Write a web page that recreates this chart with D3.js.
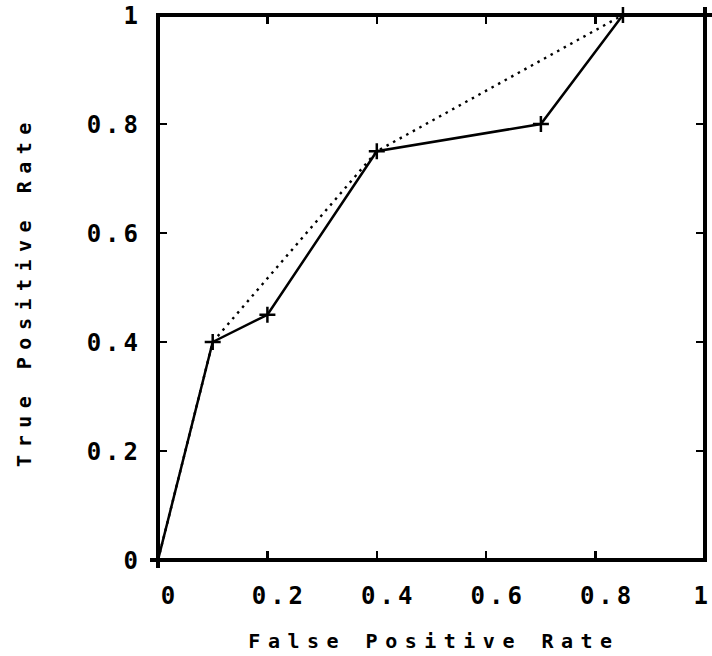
<!DOCTYPE html>
<html>
<head>
<meta charset="utf-8">
<script src="https://cdn.jsdelivr.net/npm/d3@7"></script>
<style>
  html, body { margin: 0; padding: 0; background: #fff; }
  svg { display: block; }
  text { font-family: "DejaVu Sans Mono", "Liberation Mono", monospace; font-weight: bold; fill: #000; }
</style>
</head>
<body>
<svg id="chart" width="712" height="656"></svg>
<script>
// ---- data ----
const rocFpr = [0, 0.1, 0.2, 0.4, 0.7, 0.85];
const rocTpr = [0, 0.4, 0.45, 0.75, 0.8, 1.0];
const markerFpr = [0.1, 0.2, 0.4, 0.7, 0.85];
const markerTpr = [0.4, 0.45, 0.75, 0.8, 1.0];
const hullFpr = [0, 0.1, 0.4, 0.85];
const hullTpr = [0, 0.4, 0.75, 1.0];
const tickValues = [0, 0.2, 0.4, 0.6, 0.8, 1];
const tickLabels = ["0", "0.2", "0.4", "0.6", "0.8", "1"];
const xTitle = "False Positive Rate";
const yTitle = "True Positive Rate";

// ---- layout ----
const svg = d3.select("#chart");
const x = d3.scaleLinear().domain([0, 1]).range([158, 705]);
const y = d3.scaleLinear().domain([0, 1]).range([560, 15]);
const ext = 8, tickLen = 9;

const g = svg.append("g").attr("shape-rendering", "crispEdges");

// frame lines (with small overhangs like the original)
const frame = [
  [x(0) - ext, y(0), x(1) + 2, y(0)],     // bottom
  [x(0), y(0) + ext, x(0), y(1) - 1],     // left
  [x(0) - 2, y(1), x(1) + ext, y(1)],     // top
  [x(1), y(1) - ext, x(1), y(0) + 2]      // right
];
g.selectAll("line.frame").data(frame).join("line")
  .attr("class", "frame")
  .attr("x1", d => d[0]).attr("y1", d => d[1])
  .attr("x2", d => d[2]).attr("y2", d => d[3])
  .attr("stroke", "#000").attr("stroke-width", 3.5);

// inward ticks on all four sides
const inner = tickValues.slice(1, -1);
g.selectAll("line.xb").data(inner).join("line")
  .attr("x1", d => x(d)).attr("x2", d => x(d))
  .attr("y1", y(0)).attr("y2", y(0) - tickLen)
  .attr("stroke", "#000").attr("stroke-width", 2.5);
g.selectAll("line.xt").data(inner).join("line")
  .attr("x1", d => x(d)).attr("x2", d => x(d))
  .attr("y1", y(1)).attr("y2", y(1) + tickLen)
  .attr("stroke", "#000").attr("stroke-width", 2.5);
g.selectAll("line.yl").data(inner).join("line")
  .attr("y1", d => y(d)).attr("y2", d => y(d))
  .attr("x1", x(0)).attr("x2", x(0) + tickLen)
  .attr("stroke", "#000").attr("stroke-width", 2.5);
g.selectAll("line.yr").data(inner).join("line")
  .attr("y1", d => y(d)).attr("y2", d => y(d))
  .attr("x1", x(1)).attr("x2", x(1) - tickLen)
  .attr("stroke", "#000").attr("stroke-width", 2.5);

// tick labels
const lab = svg.append("g").attr("font-size", 24).attr("letter-spacing", 4);
const nT = tickValues.length;
lab.selectAll("text.xl").data(tickValues).join("text")
  .attr("x", (d, i) => i === nT - 1 ? 712 : x(d) + 12)
  .attr("y", 604)
  .attr("text-anchor", (d, i) => i === nT - 1 ? "end" : "middle")
  .text((d, i) => tickLabels[i]);
lab.selectAll("text.yl").data(tickValues).join("text")
  .attr("x", 142)
  .attr("y", d => y(d) + 9)
  .attr("text-anchor", "end")
  .text((d, i) => tickLabels[i]);

// axis titles
svg.append("text")
  .attr("x", 434).attr("y", 648)
  .attr("font-size", 20).attr("letter-spacing", 7.5)
  .attr("text-anchor", "middle")
  .text(xTitle);
svg.append("text")
  .attr("transform", "translate(31,291) rotate(-90)")
  .attr("font-size", 20).attr("letter-spacing", 7.5)
  .attr("text-anchor", "middle")
  .text(yTitle);

// data lines
const lineGen = d3.line().x(d => x(d[0])).y(d => y(d[1]));
const rocPts = rocFpr.map((v, i) => [v, rocTpr[i]]);
const hullPts = hullFpr.map((v, i) => [v, hullTpr[i]]);

svg.append("path")
  .datum(hullPts)
  .attr("d", lineGen)
  .attr("fill", "none").attr("stroke", "#000")
  .attr("stroke-width", 2.4).attr("stroke-dasharray", "2.5,5");

svg.append("path")
  .datum(rocPts)
  .attr("d", lineGen)
  .attr("fill", "none").attr("stroke", "#000")
  .attr("stroke-width", 2.5);

// + markers
const m = svg.append("g").attr("stroke", "#000").attr("stroke-width", 2.5);
const arm = 8;
markerFpr.forEach((v, i) => {
  const cx = x(v), cy = y(markerTpr[i]);
  m.append("line").attr("x1", cx - arm).attr("x2", cx + arm).attr("y1", cy).attr("y2", cy);
  m.append("line").attr("x1", cx).attr("x2", cx).attr("y1", cy - arm).attr("y2", cy + arm);
});
</script>
</body>
</html>
